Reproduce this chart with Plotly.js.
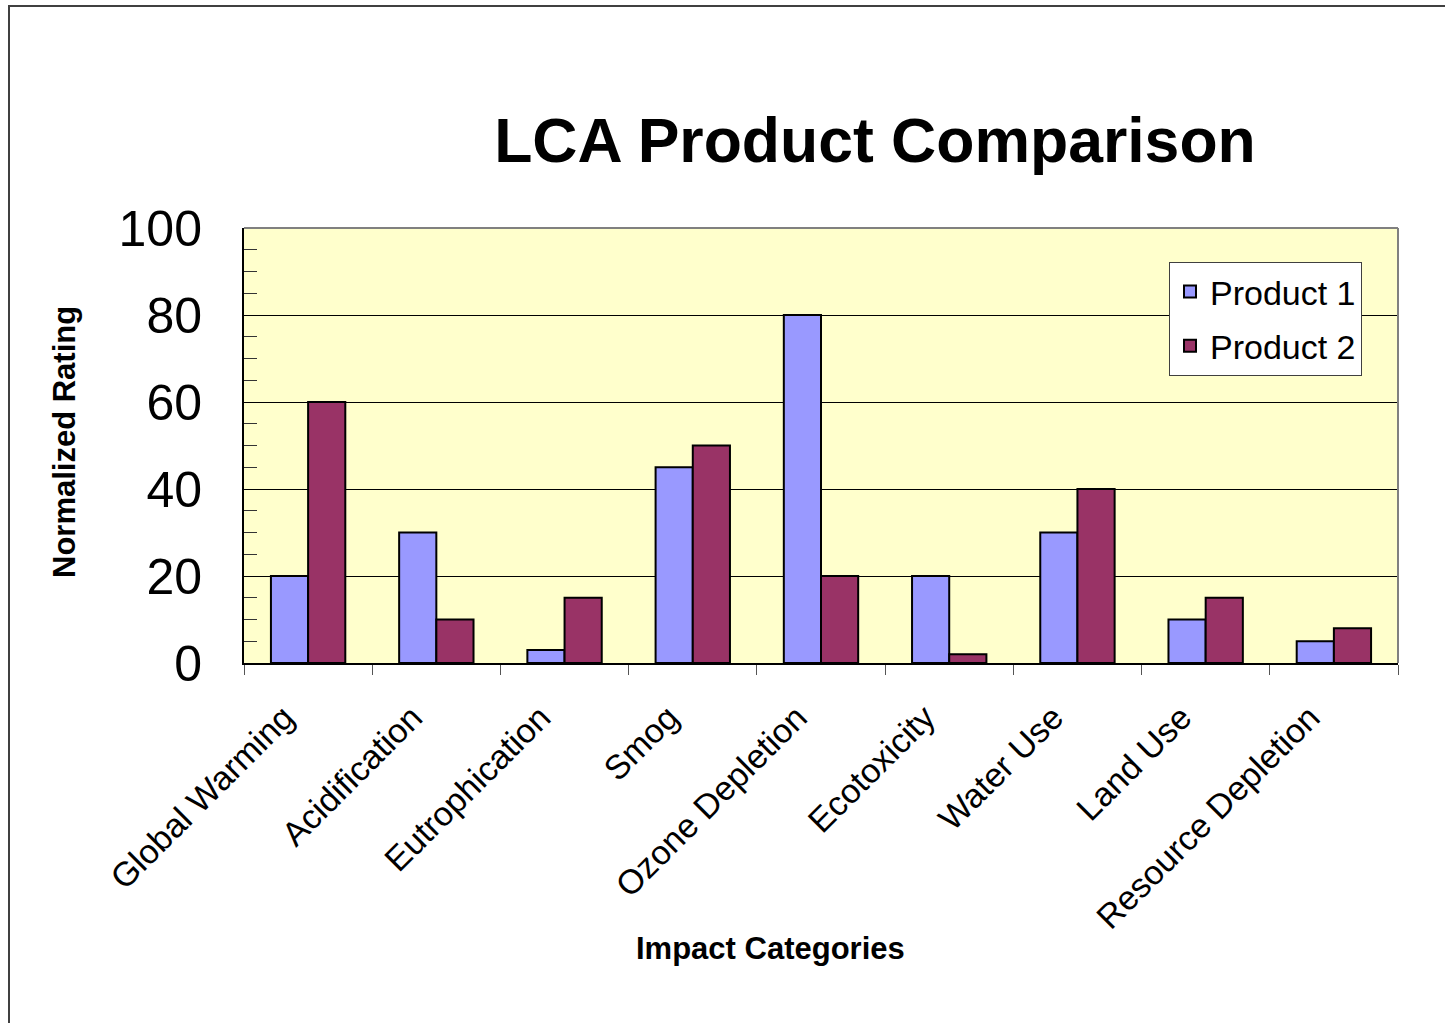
<!DOCTYPE html>
<html>
<head>
<meta charset="utf-8">
<script src="https://cdn.plot.ly/plotly-3.0.1.min.js"></script>
<style>
  html, body { margin: 0; padding: 0; background: #fff; }
  #chart { position: absolute; left: 0; top: 0; width: 1445px; height: 1023px; }
  #frame { position: absolute; left: 8px; top: 5px; width: 1500px; height: 1100px;
           border-left: 2px solid #404040; border-top: 2px solid #404040; pointer-events: none; }
</style>
</head>
<body>
<div id="chart"></div>
<div id="frame"></div>
<script>
const categories = ["Global Warming", "Acidification", "Eutrophication", "Smog", "Ozone Depletion",
                    "Ecotoxicity", "Water Use", "Land Use", "Resource Depletion"];
const product1 = [20, 30, 3, 45, 80, 20, 30, 10, 5];
const product2 = [60, 10, 15, 50, 20, 2, 40, 15, 8];
const seriesNames = ["Product 1", "Product 2"];
const yTicks = [0, 20, 40, 60, 80, 100];

const FONT = "Liberation Sans, Arial, sans-serif";

const traces = [
  { type: "bar", name: seriesNames[0], x: categories, y: product1, legendgroup: "p1",
    marker: { color: "#9999FF", line: { color: "#000000", width: 2 } } },
  { type: "bar", name: seriesNames[1], x: categories, y: product2, legendgroup: "p2",
    marker: { color: "#993366", line: { color: "#000000", width: 2 } } }
];

const layout = {
  width: 1445, height: 1023,
  paper_bgcolor: "#ffffff",
  plot_bgcolor: "#FFFFCC",
  margin: { l: 244, r: 47, t: 228, b: 360, pad: 0 },
  barmode: "group",
  bargap: 0.42,
  bargroupgap: 0,
  font: { family: FONT, color: "#000" },
  title: {
    text: "<b>LCA Product Comparison</b>",
    font: { family: FONT, size: 62.5, color: "#000" },
    xref: "container", yref: "container",
    x: 0.6055, xanchor: "center",
    y: 1 - 140 / 1023, yanchor: "middle"
  },
  xaxis: {
    type: "category",
    showline: true, linecolor: "#000", linewidth: 2,
    ticks: "outside", tickson: "boundaries", ticklen: 10, tickcolor: "#555", tickwidth: 1,
    tickangle: -45,
    ticklabelstandoff: 19,
    ticklabelshift: -24,
    tickfont: { family: FONT, size: 34, color: "#000" },
    showgrid: false, zeroline: false,
    fixedrange: true
  },
  yaxis: {
    range: [0, 100],
    tickvals: yTicks,
    ticktext: yTicks.map(String),
    showline: true, linecolor: "#000", linewidth: 2,
    ticks: "inside", ticklen: 16, tickcolor: "#000", tickwidth: 1,
    ticklabelstandoff: 30,
    minor: { dtick: 5, ticks: "inside", ticklen: 13, tickcolor: "#333", tickwidth: 1, showgrid: false },
    tickfont: { family: FONT, size: 50, color: "#000" },
    showgrid: true, gridcolor: "#000", gridwidth: 1,
    zeroline: false,
    fixedrange: true
  },
  legend: {
    x: (1169 - 244) / 1154, xanchor: "left",
    y: (663 - 262) / 435, yanchor: "top",
    bgcolor: "#ffffff", bordercolor: "#404040", borderwidth: 1,
    font: { family: FONT, size: 34, color: "#000" },
    traceorder: "grouped",
    itemwidth: 30,
    tracegroupgap: 7
  },
  shapes: [
    { type: "line", xref: "paper", yref: "paper", x0: 0, x1: 1, y0: 1, y1: 1,
      line: { color: "#808080", width: 2 } },
    { type: "line", xref: "paper", yref: "paper", x0: 1, x1: 1, y0: 0, y1: 1,
      line: { color: "#808080", width: 2 } }
  ],
  annotations: [
    { text: "<b>Normalized Rating</b>", xref: "paper", yref: "paper",
      x: (64 - 244) / 1154, y: (663 - 442) / 435, xanchor: "center", yanchor: "middle",
      textangle: -90, showarrow: false, font: { family: FONT, size: 31, color: "#000" } },
    { text: "<b>Impact Categories</b>", xref: "paper", yref: "paper",
      x: (770 - 244) / 1154, y: (663 - 948) / 435, xanchor: "center", yanchor: "middle",
      showarrow: false, font: { family: FONT, size: 31, color: "#000" } }
  ],
  showlegend: true
};

Plotly.newPlot("chart", traces, layout, { displayModeBar: false, staticPlot: true });
</script>
</body>
</html>
